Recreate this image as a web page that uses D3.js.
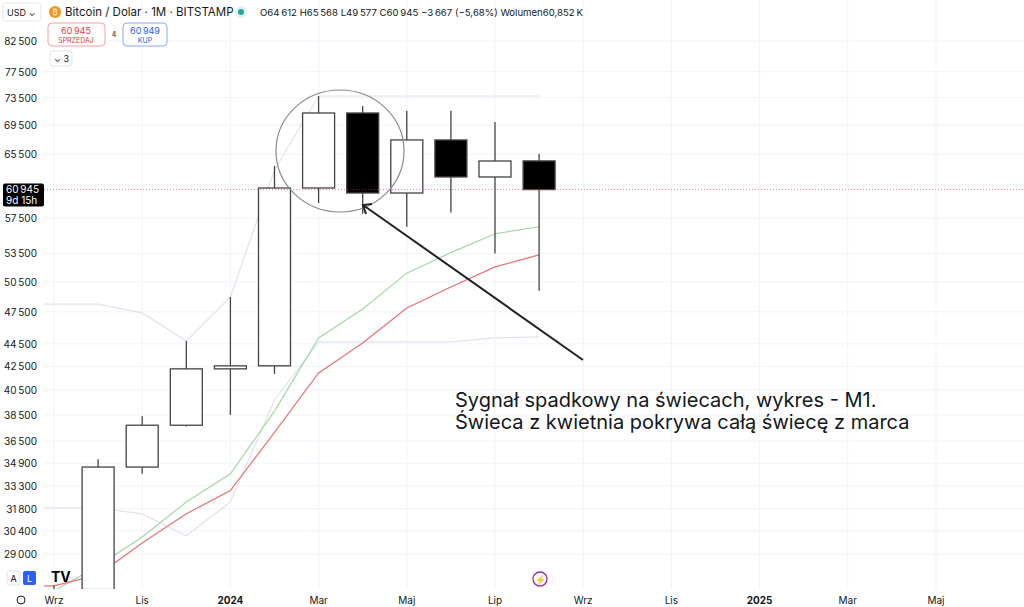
<!DOCTYPE html>
<html><head><meta charset="utf-8">
<script src="https://cdn.jsdelivr.net/npm/d3@7"></script>
<style>body{margin:0;background:#fff;font-family:Inter,"Noto Sans",sans-serif}</style>
</head><body><svg width="1024" height="607"></svg>
<script>
var svg = d3.select('svg');
var W = 1024, H = 607;

// months from Sep 2023 (index 0)
var months = [0,1,2,3,4,5,6,7,8,9,10,11];
var opens  = [25900,26970,34620,37700,42290,42550,61140,71240,60520,67430,62530,64612];
var highs  = [27200,35170,38400,44770,48960,63960,73750,72250,71550,71550,69950,65568];
var lows   = [24900,26500,34150,37600,38500,41850,59300,58000,56510,58170,53500,49577];
var closes = [26960,34620,37700,42290,42550,61140,71240,60520,67430,62530,64600,60945];

var redLine   = [27170,27790,29660,31470,33000,37150,41940,44580,47870,49970,52060,53350];
var greenLine = [26900,28290,30020,32240,34150,38800,45040,47770,51400,53600,55700,56500];
var greyLow   = [31850,31850,31470,30090,32240,39690,44680,44680,44680,44680,45040,45130];
var greyHigh  = [48260,48260,47400,44770,48960,63430,73750,73750,73750,73750,73750,73750];

var yTicks = [82500,77500,73500,69500,65500,61500,57500,53500,50500,47500,44500,42500,40500,38500,36500,34900,33300,31800,30400,29000];
var xTickIdx = [0,2,4,6,8,10,12,14,16,18,20];
var xTickLabels = ['Wrz','Lis','2024','Mar','Maj','Lip','Wrz','Lis','2025','Mar','Maj'];

var plotBottom = 589, plotLeft = 44;
var x = d3.scaleLinear().domain([0, 20]).range([54, 936]);
var y = d3.scaleLog().domain([27000, 82500]).range([589, 41]);
var fmt = function(v){ return d3.format(',')(v).replace(/,/g, '\u2009'); };

// grid
var grid = svg.append('g');
grid.selectAll('.hg').data(yTicks).enter().append('line')
  .attr('x1', plotLeft).attr('x2', W).attr('y1', d => y(d)).attr('y2', d => y(d))
  .attr('stroke', '#f0f3fa');
grid.selectAll('.vg').data(xTickIdx).enter().append('line')
  .attr('x1', d => x(d)).attr('x2', d => x(d)).attr('y1', 0).attr('y2', plotBottom)
  .attr('stroke', '#f0f3fa');

// y labels (the one under the price tag is hidden by it)
var last = closes[closes.length - 1];
svg.append('g').selectAll('text').data(yTicks.filter(d => Math.abs(y(d) - y(last)) > 8)).enter().append('text')
  .attr('x', 37).attr('y', d => y(d) + 4).attr('text-anchor', 'end')
  .attr('font-size', 10).attr('fill', '#131722').text(fmt);

// x labels
svg.append('g').selectAll('text').data(xTickIdx).enter().append('text')
  .attr('x', d => x(d)).attr('y', 604).attr('text-anchor', 'middle')
  .attr('font-size', 10).attr('fill', '#131722')
  .attr('font-weight', (d, i) => /^20/.test(xTickLabels[i]) ? 'bold' : 'normal')
  .text((d, i) => xTickLabels[i]);

svg.append('defs').append('clipPath').attr('id', 'clip')
  .append('rect').attr('x', plotLeft).attr('y', 0).attr('width', W - plotLeft).attr('height', plotBottom);
var plot = svg.append('g').attr('clip-path', 'url(#clip)');

// lines
var line = function(arr){ return d3.line().x((d, i) => x(months[i])).y(d => y(d))(arr); };
var fromEdge = function(arr){ return 'M' + plotLeft + ',' + y(arr[0]) + 'L' + line(arr).slice(1); };
plot.append('path').attr('d', fromEdge(greyLow)).attr('fill', 'none').attr('stroke', '#e0e3eb').attr('stroke-width', 1.2);
plot.append('path').attr('d', fromEdge(greyHigh)).attr('fill', 'none').attr('stroke', '#e0e3eb').attr('stroke-width', 1.2);
plot.append('path').attr('d', line(greenLine)).attr('fill', 'none').attr('stroke', '#a5d6a7').attr('stroke-width', 1.2);
plot.append('path').attr('d', fromEdge(redLine)).attr('fill', 'none').attr('stroke', '#e57373').attr('stroke-width', 1.2);

// candles
var bw = 32;
var c = plot.selectAll('.c').data(months).enter().append('g');
c.append('line').attr('x1', i => x(i)).attr('x2', i => x(i))
  .attr('y1', i => y(highs[i])).attr('y2', i => y(lows[i])).attr('stroke', '#444').attr('stroke-width', 1.3);
c.append('rect').attr('x', i => x(i) - bw / 2).attr('width', bw)
  .attr('y', i => y(Math.max(opens[i], closes[i])))
  .attr('height', i => Math.max(2, Math.abs(y(opens[i]) - y(closes[i]))))
  .attr('fill', i => closes[i] >= opens[i] ? '#fff' : '#000')
  .attr('stroke', '#444').attr('stroke-width', 1.3);

// price line
svg.append('line').attr('x1', plotLeft).attr('x2', W).attr('y1', y(last)).attr('y2', y(last))
  .attr('stroke', '#f23645').attr('stroke-opacity', 0.6).attr('stroke-dasharray', '1,2');
svg.append('rect').attr('x', 3).attr('y', y(last) - 6).attr('width', 41).attr('height', 23).attr('rx', 2).attr('fill', '#000');
svg.append('text').attr('x', 6).attr('y', y(last) + 3).attr('font-size', 10).attr('fill', '#fff').text(fmt(last));
svg.append('text').attr('x', 6).attr('y', y(last) + 14).attr('font-size', 10).attr('fill', '#fff').text('9d 15h');

// annotation
svg.append('ellipse').attr('cx', 340).attr('cy', 151).attr('rx', 64).attr('ry', 61)
  .attr('fill', 'none').attr('stroke', '#8a8a8a').attr('stroke-width', 1.2);
svg.append('line').attr('x1', 583).attr('y1', 360).attr('x2', 363).attr('y2', 205).attr('stroke', '#222').attr('stroke-width', 2);
svg.append('path').attr('d', 'M372,204 L363,205 L366,214').attr('fill', 'none').attr('stroke', '#222').attr('stroke-width', 2);
svg.append('text').attr('x', 455).attr('y', 407).attr('font-size', 20).attr('fill', '#131722').text('Sygnał spadkowy na świecach, wykres - M1.');
svg.append('text').attr('x', 455).attr('y', 429).attr('font-size', 20).attr('fill', '#131722').text('Świeca z kwietnia pokrywa całą świecę z marca');

// header
svg.append('rect').attr('x', 3).attr('y', 3).attr('width', 38).attr('height', 18).attr('rx', 3).attr('fill', '#fff').attr('stroke', '#e0e3eb');
svg.append('text').attr('x', 7).attr('y', 16).attr('font-size', 9).attr('fill', '#131722').text('USD  ⌄');
svg.append('circle').attr('cx', 55).attr('cy', 12).attr('r', 6).attr('fill', '#f7931a');
svg.append('text').attr('x', 55).attr('y', 15).attr('font-size', 8).attr('text-anchor', 'middle').attr('fill', '#fff').text('₿');
svg.append('text').attr('x', 65).attr('y', 16).attr('font-size', 11.5).attr('fill', '#131722').text('Bitcoin / Dolar · 1M · BITSTAMP');
svg.append('circle').attr('cx', 241).attr('cy', 12).attr('r', 6).attr('fill', '#e0f2ec');
svg.append('circle').attr('cx', 241).attr('cy', 12).attr('r', 3).attr('fill', '#26a69a');
svg.append('text').attr('x', 260).attr('y', 16).attr('font-size', 9.6).attr('fill', '#131722')
  .text('O' + fmt(opens[11]) + '  H' + fmt(highs[11]) + '  L' + fmt(lows[11]) + '  C' + fmt(last) + '  \u22123\u2009667 (\u22125,68%)  Wolumen60,852\u2009K');
svg.append('rect').attr('x', 48).attr('y', 23).attr('width', 57).attr('height', 23).attr('rx', 4).attr('fill', '#fff').attr('stroke', '#f7a1a6');
svg.append('text').attr('x', 76).attr('y', 34).attr('font-size', 9).attr('text-anchor', 'middle').attr('fill', '#f23645').text('60\u2009945');
svg.append('text').attr('x', 76).attr('y', 43).attr('font-size', 7).attr('text-anchor', 'middle').attr('fill', '#f23645').text('SPRZEDAJ');
svg.append('text').attr('x', 114).attr('y', 37).attr('font-size', 7).attr('text-anchor', 'middle').attr('fill', '#131722').text('4');
svg.append('rect').attr('x', 123).attr('y', 23).attr('width', 44).attr('height', 23).attr('rx', 4).attr('fill', '#fff').attr('stroke', '#8aa8f8');
svg.append('text').attr('x', 145).attr('y', 34).attr('font-size', 9).attr('text-anchor', 'middle').attr('fill', '#2962ff').text('60\u2009949');
svg.append('text').attr('x', 145).attr('y', 43).attr('font-size', 7).attr('text-anchor', 'middle').attr('fill', '#2962ff').text('KUP');
svg.append('rect').attr('x', 50).attr('y', 51).attr('width', 22).attr('height', 15).attr('rx', 3).attr('fill', '#fff').attr('stroke', '#e0e3eb');
svg.append('text').attr('x', 54).attr('y', 62).attr('font-size', 9).attr('fill', '#131722').text('⌄ 3');

// bottom widgets
svg.append('rect').attr('x', 7).attr('y', 571).attr('width', 13).attr('height', 14).attr('rx', 2).attr('fill', '#fff').attr('stroke', '#e0e3eb');
svg.append('text').attr('x', 13.5).attr('y', 582).attr('font-size', 9).attr('text-anchor', 'middle').text('A');
svg.append('rect').attr('x', 23).attr('y', 571).attr('width', 13).attr('height', 14).attr('rx', 2).attr('fill', '#2962ff');
svg.append('text').attr('x', 29.5).attr('y', 582).attr('font-size', 9).attr('text-anchor', 'middle').attr('fill', '#fff').text('L');
svg.append('text').attr('x', 51).attr('y', 582).attr('font-size', 14).attr('font-weight', 'bold').attr('fill', '#000').text('TV');
svg.append('circle').attr('cx', 540).attr('cy', 579).attr('r', 7).attr('fill', '#fff').attr('stroke', '#9c27b0').attr('stroke-width', 1.3);
svg.append('text').attr('x', 540).attr('y', 583).attr('font-size', 9).attr('text-anchor', 'middle').attr('fill', '#9c27b0').text('⚡');
svg.append('circle').attr('cx', 21).attr('cy', 600).attr('r', 4).attr('fill', 'none').attr('stroke', '#131722');
</script></body></html>
